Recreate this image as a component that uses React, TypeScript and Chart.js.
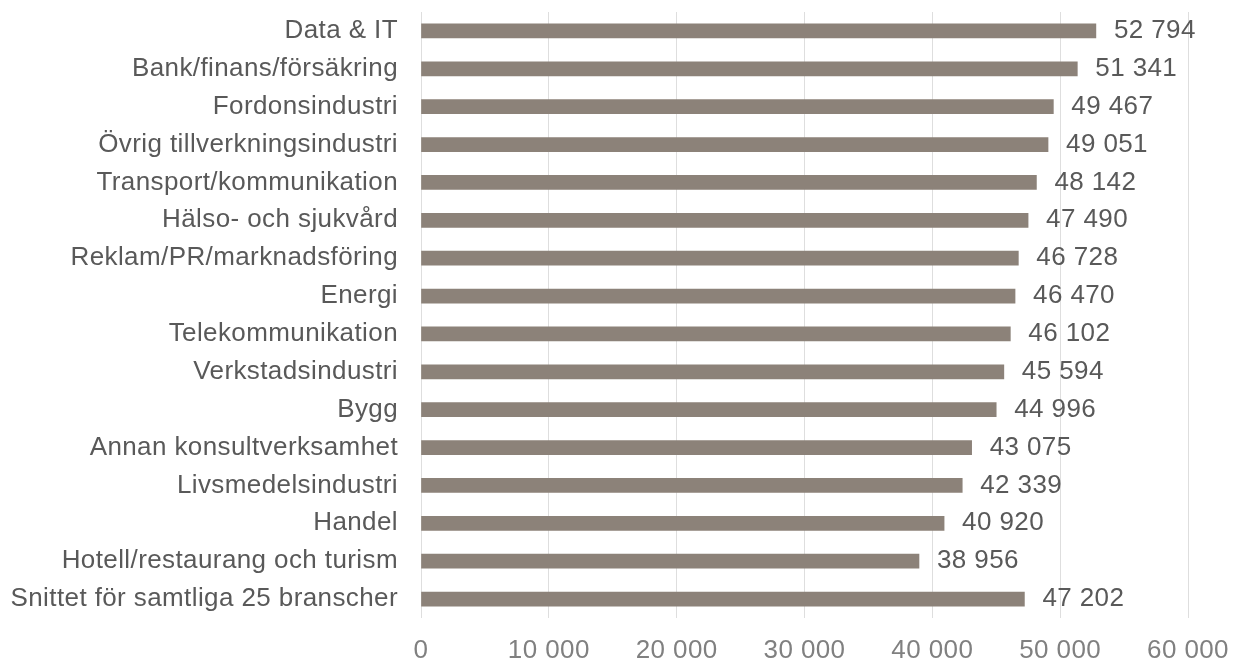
import React, { useEffect, useRef } from "react";
import { Chart, registerables } from "chart.js";

Chart.register(...registerables);

const categories = [
  "Data & IT",
  "Bank/finans/försäkring",
  "Fordonsindustri",
  "Övrig tillverkningsindustri",
  "Transport/kommunikation",
  "Hälso- och sjukvård",
  "Reklam/PR/marknadsföring",
  "Energi",
  "Telekommunikation",
  "Verkstadsindustri",
  "Bygg",
  "Annan konsultverksamhet",
  "Livsmedelsindustri",
  "Handel",
  "Hotell/restaurang och turism",
  "Snittet för samtliga 25 branscher",
];

const salaries = [
  52794, 51341, 49467, 49051, 48142, 47490, 46728, 46470, 46102, 45594, 44996,
  43075, 42339, 40920, 38956, 47202,
];

const xTicks = [0, 10000, 20000, 30000, 40000, 50000, 60000];

const FONT = "'Liberation Sans', Arial, Helvetica, sans-serif";
const SPACING = "0.4px";

const fmt = (v: number) =>
  Math.round(v)
    .toString()
    .replace(/\B(?=(\d{3})+(?!\d))/g, " ");

const spacingPlugin = {
  id: "spacing",
  beforeUpdate(chart: any) {
    chart.ctx.letterSpacing = SPACING;
  },
  beforeDraw(chart: any) {
    chart.ctx.letterSpacing = SPACING;
  },
};

const valueLabels = {
  id: "valueLabels",
  afterDatasetsDraw(chart: any) {
    const ctx = chart.ctx;
    const meta = chart.getDatasetMeta(0);
    ctx.save();
    ctx.letterSpacing = SPACING;
    ctx.font = `26px ${FONT}`;
    ctx.fillStyle = "#595959";
    ctx.textAlign = "left";
    ctx.textBaseline = "middle";
    meta.data.forEach((bar: any, i: number) => {
      ctx.fillText(fmt(salaries[i]), bar.x + 18, bar.y);
    });
    ctx.restore();
  },
};

export default function App() {
  const ref = useRef<HTMLCanvasElement>(null);

  useEffect(() => {
    if (!ref.current) return;
    const chart = new Chart(ref.current, {
      type: "bar",
      data: {
        labels: categories,
        datasets: [
          {
            data: salaries,
            backgroundColor: "#8c8279",
            barThickness: 14,
          },
        ],
      },
      options: {
        indexAxis: "y",
        animation: false,
        responsive: false,
        maintainAspectRatio: false,
        layout: { padding: { left: 0, right: 45, top: 12, bottom: 0 } },
        plugins: {
          legend: { display: false },
          tooltip: { enabled: false },
        },
        scales: {
          x: {
            min: 0,
            max: 60000,
            afterBuildTicks: (scale: any) => {
              scale.ticks = xTicks.map((v) => ({ value: v }));
            },
            afterFit: (scale: any) => {
              scale.height = 41;
              scale.paddingLeft = 0;
              scale.paddingRight = 0;
            },
            grid: {
              color: "#dedede",
              lineWidth: 1,
              drawTicks: false,
            },
            border: { display: false },
            ticks: {
              padding: 17,
              color: "#808080",
              font: { family: FONT, size: 26 },
              callback: (v: any) => fmt(Number(v)),
              maxRotation: 0,
            },
          },
          y: {
            afterFit: (scale: any) => {
              scale.width = 421;
              scale.paddingTop = 0;
              scale.paddingBottom = 0;
            },
            grid: { display: false, drawTicks: false },
            border: { display: false },
            ticks: {
              padding: 23,
              color: "#595959",
              font: { family: FONT, size: 26 },
            },
          },
        },
      },
      plugins: [spacingPlugin, valueLabels],
    });
    return () => chart.destroy();
  }, []);

  return (
    <div
      style={{
        position: "fixed",
        left: 0,
        top: 0,
        width: 1233,
        height: 659,
        background: "#ffffff",
      }}
    >
      <canvas ref={ref} width={1233} height={659} style={{ width: 1233, height: 659 }} />
    </div>
  );
}
